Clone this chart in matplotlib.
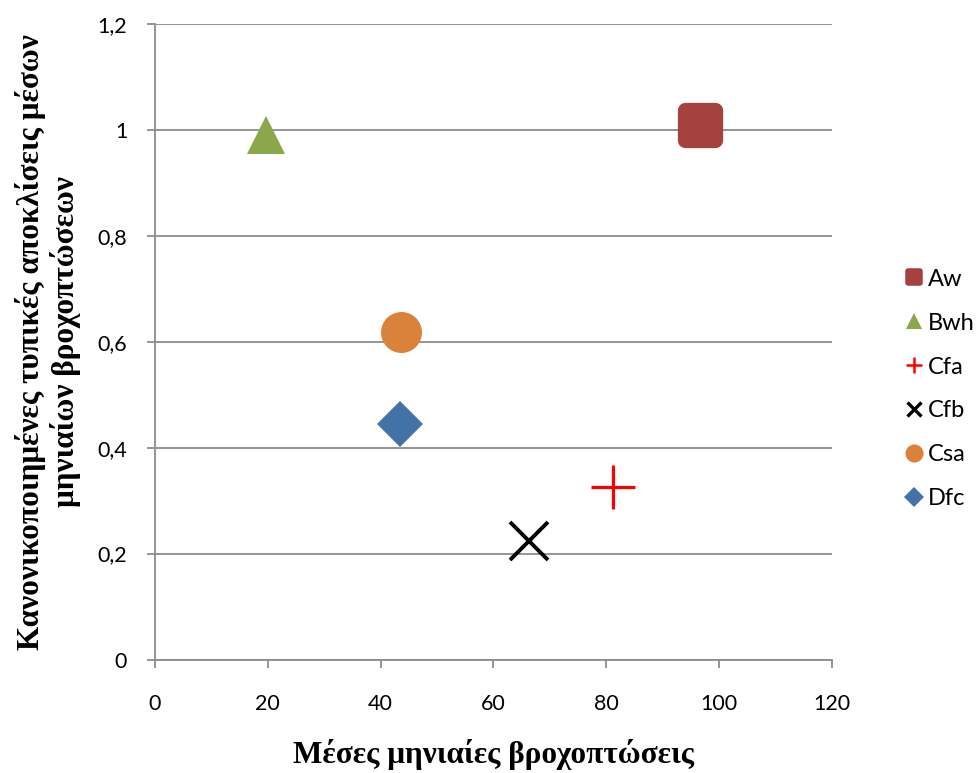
import matplotlib
matplotlib.use('Agg')
import matplotlib.pyplot as plt
from matplotlib.lines import Line2D
from matplotlib.markers import MarkerStyle
from matplotlib.ticker import FuncFormatter

# climate classes and their points
labels = ['Aw', 'Bwh', 'Cfa', 'Cfb', 'Csa', 'Dfc']
xVals = [96.6, 19.6, 81.2, 66.4, 43.6, 43.4]
yVals = [1.01, 0.99, 0.326, 0.223, 0.618, 0.445]

colors = ['#A5423F', '#8AA84A', '#FF0000', '#000000', '#DA823A', '#4472A8']
markers = ['s', '^', '+', 'x', 'o', 'D']
sizes = [22, 27, 32, 27, 29.5, 23.5]
edgeW = [11, 0, 2.3, 2.8, 0, 0]
legSizes = [9, 12, 12, 10, 13, 10]
legEdge = [4, 0, 1.8, 2.4, 0, 0]

plt.rcParams['font.family'] = ['Lato', 'DejaVu Sans']
fig = plt.figure(figsize=(9.79, 7.73), dpi=100)
ax = fig.add_axes([155/979, 1-659.5/773, (831.7-155)/979, (659.5-24)/773])

for i in range(len(labels)):
    # square gets round joins so its corners look rounded like excel's
    m = MarkerStyle(markers[i], joinstyle='round') if markers[i] == 's' else markers[i]
    ax.plot(xVals[i], yVals[i], linestyle='none', marker=m, markersize=sizes[i],
            color=colors[i], markeredgecolor=colors[i], markeredgewidth=edgeW[i], zorder=3)

ax.set_xlim(0, 120)
ax.set_ylim(0, 1.2)
ax.set_xticks(range(0, 121, 20))
ax.set_yticks([0, 0.2, 0.4, 0.6, 0.8, 1.0, 1.2])
ax.yaxis.set_major_formatter(FuncFormatter(lambda v, p: ('%g' % round(v, 1)).replace('.', ',')))
ax.grid(axis='y', color='#8c8c8c', linewidth=1.3, zorder=0)
ax.set_axisbelow(True)
for s in ['top', 'right']:
    ax.spines[s].set_visible(False)
for s in ['left', 'bottom']:
    ax.spines[s].set_color('#8c8c8c')
    ax.spines[s].set_linewidth(1.3)
ax.tick_params(axis='both', colors='#8c8c8c', labelcolor='black', labelsize=15.5, length=6, width=1.3)
ax.tick_params(axis='x', pad=19)
ax.tick_params(axis='y', pad=14)

ax.set_xlabel('Μέσες μηνιαίες βροχοπτώσεις', family=['Liberation Serif'], fontweight='bold',
              fontsize=22.5, labelpad=18)
ax.set_ylabel('Κανονικοποιημένες τυπικές αποκλίσεις μέσων\nμηνιαίων βροχοπτώσεων',
              family=['Liberation Serif'], fontweight='bold', fontsize=22.5, labelpad=12,
              linespacing=1.15)

handles = []
for i in range(len(labels)):
    m = MarkerStyle(markers[i], joinstyle='round') if markers[i] == 's' else markers[i]
    handles.append(Line2D([], [], linestyle='none', marker=m, markersize=legSizes[i],
                          color=colors[i], markeredgecolor=colors[i], markeredgewidth=legEdge[i]))
fig.legend(handles, labels, loc='center left', bbox_to_anchor=(894/979, 1-389/773),
           frameon=False, fontsize=17, handlelength=0.7, handletextpad=0.25, labelspacing=0.97,
           borderpad=0)

fig.savefig('out.png', dpi=100)
